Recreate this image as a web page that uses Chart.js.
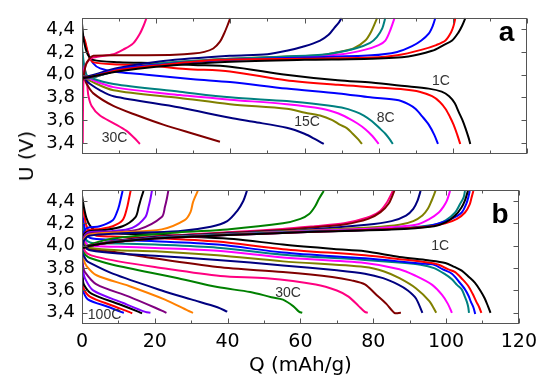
<!DOCTYPE html>
<html>
<head>
<meta charset="utf-8">
<script src="https://cdn.jsdelivr.net/npm/chart.js@4.4.1/dist/chart.umd.min.js"></script>
<style>
    html, body { margin: 0; padding: 0; background: #fff; }
    #wrap { position: relative; width: 544px; height: 378px; overflow: hidden; }
    #chartA { position: absolute; left: 0; top: 0; }
    #chartB { position: absolute; left: 0; top: 172px; }
    #yTitle { position: absolute; left: 26px; top: 156px; transform: translate(-50%, -50%) rotate(-90deg); font: 20px 'DejaVu Sans', sans-serif; white-space: nowrap; color: #000; }
</style>
</head>
<body>
<div id="wrap">
    <canvas id="chartA" width="544" height="172"></canvas>
    <canvas id="chartB" width="544" height="206"></canvas>
    <div id="yTitle">U (V)</div>
</div>
<script>
const xTickValues = [0, 20, 40, 60, 80, 100, 120];
const xMinorValues = [10, 30, 50, 70, 90, 110];
const yTickValues = [3.4, 3.6, 3.8, 4.0, 4.2, 4.4];

// panel a: 1C ... 30C
const colorsA = ['#000000', '#ff0000', '#0000ff', '#008080', '#ff00ff', '#808000', '#000080', '#800000', '#ff0080'];

const dischargeA = [
    [[0,4.45],[0.5,4.3],[1.5,4.18],[3,4.13],[10,4.11],[20,4.1],[30,4.085],[40,4.07],[55,4.0],[69,3.95],[78,3.93],[87,3.9],[93.5,3.877],[97,3.85],[99,3.81],[100.5,3.75],[101.6,3.67],[102.6,3.6],[103.4,3.53],[104.2,3.45],[104.7,3.39]],
    [[0,4.36],[0.8,4.3],[1.8,4.17],[3,4.11],[10,4.09],[17.4,4.083],[28,4.05],[39.9,4.028],[55,3.95],[69,3.91],[78,3.89],[87,3.87],[91,3.85],[94.4,3.81],[96.5,3.76],[98,3.7],[99.2,3.63],[100.2,3.56],[101.2,3.47],[102,3.39]],
    [[0,4.36],[0.4,4.33],[1.5,4.2],[3,4.1],[4.9,4.055],[10,4.02],[17.4,4.0],[30,3.96],[39.9,3.935],[55.2,3.877],[69.2,3.835],[77.7,3.8],[85.4,3.775],[88,3.74],[89.9,3.7],[91.8,3.63],[93.5,3.56],[95,3.47],[96,3.39]],
    [[0,4.25],[0.5,4.1],[1.2,4.0],[2.2,3.973],[8.5,3.918],[26.4,3.85],[39.9,3.8],[55.2,3.767],[64.7,3.735],[70,3.71],[73.7,3.675],[76,3.64],[78.2,3.59],[80.2,3.53],[81.8,3.48],[83,3.43],[83.8,3.39]],
    [[0,4.2],[0.5,4.05],[1.2,3.98],[2.2,3.96],[8.5,3.89],[26.4,3.82],[39.9,3.78],[55.2,3.74],[64.7,3.7],[69,3.66],[71.9,3.615],[74.3,3.57],[76.4,3.52],[78.3,3.46],[80,3.39]],
    [[0,4.2],[0.5,4.03],[1.2,3.97],[2.2,3.945],[8.5,3.863],[26.4,3.795],[39.9,3.74],[55.2,3.7],[60.2,3.665],[64.2,3.64],[67.5,3.6],[69.5,3.56],[71.4,3.53],[73,3.48],[74.5,3.43],[75.5,3.39]],
    [[0,4.1],[0.5,4.0],[1.2,3.95],[2.2,3.918],[5,3.86],[8.5,3.81],[26.4,3.71],[39.9,3.62],[46.2,3.585],[55.2,3.532],[60,3.48],[63,3.43],[65.2,3.39]],
    [[0,4.05],[0.6,3.97],[1.26,3.918],[3.06,3.835],[8.45,3.725],[15,3.64],[21.9,3.56],[30,3.48],[37.2,3.41]],
    [[0,4.15],[0.7,4.05],[1.26,3.97],[1.7,3.82],[2.6,3.725],[4.85,3.64],[8.45,3.574],[12,3.505],[14.2,3.44],[15.6,3.39]]
];

const chargeA = [
    [[0.3,3.97],[2.2,3.98],[10,4.03],[20,4.07],[37,4.11],[60,4.13],[78,4.14],[88,4.16],[94.4,4.21],[97.5,4.26],[99.8,4.3],[101.5,4.37],[102.5,4.43],[103.4,4.5]],
    [[0.3,3.97],[2.2,3.98],[10,4.04],[20,4.08],[37,4.13],[60,4.14],[78,4.15],[85,4.17],[91.7,4.22],[95.5,4.26],[98,4.3],[99.5,4.37],[100.2,4.43],[100.7,4.5]],
    [[0.3,3.97],[2.2,3.98],[10,4.05],[21.9,4.09],[39.9,4.13],[60,4.15],[78,4.17],[85,4.2],[89,4.25],[91.5,4.3],[93.5,4.36],[94.6,4.43],[95.3,4.5]],
    [[0.3,3.97],[2.2,3.97],[10,4.04],[21.9,4.1],[39.9,4.14],[55,4.16],[66,4.18],[73.7,4.23],[77.7,4.28],[79.5,4.33],[81,4.41],[81.8,4.5]],
    [[0.3,3.97],[2.2,3.97],[10,4.04],[21.9,4.09],[39.9,4.13],[55,4.15],[70,4.18],[76.4,4.22],[80,4.26],[81.8,4.3],[83,4.38],[84.3,4.5]],
    [[0.3,3.97],[2.2,3.97],[10,4.04],[21.9,4.1],[39.9,4.14],[55,4.16],[64.2,4.17],[69.2,4.2],[73.2,4.23],[76.4,4.3],[78,4.38],[79.6,4.5]],
    [[0.3,3.97],[2.2,3.99],[10,4.06],[21.9,4.12],[39.9,4.166],[50,4.18],[55.2,4.21],[60,4.25],[64.2,4.3],[66.5,4.35],[68,4.41],[69.3,4.46],[70,4.5]],
    [[0.3,3.95],[1,4.08],[2,4.14],[3.06,4.166],[15,4.17],[25,4.175],[30,4.185],[33,4.2],[35.4,4.23],[37.2,4.29],[38.3,4.36],[39.2,4.43],[40,4.5]],
    [[0.2,3.39],[0.3,3.8],[0.5,4.0],[1.2,4.1],[3,4.15],[8.5,4.18],[11.1,4.22],[13.8,4.275],[15.6,4.36],[16.6,4.43],[17.4,4.5]]
];

// panel b: 1C ... 100C
const colorsB = ['#000000', '#ff0000', '#0000ff', '#008080', '#ff00ff', '#808000', '#000080', '#800000', '#ff0080',
    '#008000', '#000080', '#ff8000', '#800080', '#8000ff', '#000000', '#ff0000', '#0000ff'];

const dischargeB = [
    [[0,4.45],[0.5,4.35],[1.2,4.25],[2.2,4.18],[4,4.13],[10,4.11],[20,4.1],[30,4.08],[41.7,4.06],[55.2,4.01],[69.2,3.97],[77.7,3.95],[87.2,3.9],[95,3.87],[99.8,3.846],[102.3,3.81],[104.3,3.777],[106.3,3.72],[107.9,3.67],[109.4,3.6],[110.6,3.53],[111.5,3.46],[112.2,3.4]],
    [[0,4.4],[0.5,4.3],[1.2,4.18],[2.2,4.12],[4,4.09],[10,4.08],[20,4.07],[37.2,4.037],[55.2,3.969],[77.7,3.914],[87.2,3.88],[95,3.85],[98,3.83],[100.5,3.79],[102.5,3.764],[104.5,3.7],[106.1,3.64],[107.3,3.57],[108.3,3.5],[109.1,3.45],[109.7,3.4]],
    [[0,4.3],[0.5,4.2],[1.2,4.1],[2.2,4.07],[4,4.06],[10,4.05],[20,4.04],[37.2,4.01],[55.2,3.94],[77.7,3.887],[87,3.86],[93,3.84],[96.7,3.83],[99,3.79],[101.6,3.75],[103.5,3.68],[105.2,3.61],[106.2,3.55],[106.8,3.5],[107.5,3.45],[108,3.39]],
    [[0,4.25],[0.5,4.12],[1.2,4.05],[2.2,4.03],[4,4.02],[10,4.02],[20,4.01],[37.2,3.982],[55.2,3.92],[77.7,3.873],[87,3.85],[93,3.83],[96.7,3.8],[99.5,3.75],[101.6,3.7],[103,3.65],[104.3,3.61],[105.1,3.55],[105.7,3.5],[106.1,3.45],[106.3,3.4]],
    [[0,4.2],[0.5,4.08],[1.2,4.02],[2.2,4.0],[10,3.99],[20,3.98],[37.2,3.955],[55.2,3.895],[77.7,3.846],[87.2,3.79],[91.7,3.73],[96.2,3.65],[98.9,3.56],[100.5,3.48],[101.6,3.4]],
    [[0,4.15],[0.5,4.05],[1.2,4.0],[2.2,3.98],[10,3.96],[20,3.95],[37.2,3.914],[55.2,3.86],[77.7,3.81],[83,3.77],[87.2,3.71],[91.7,3.62],[95.4,3.504],[97.3,3.4]],
    [[0,4.1],[0.5,4.02],[1.2,3.98],[2.2,3.96],[10,3.93],[20,3.91],[37.2,3.873],[55.2,3.824],[70,3.78],[77.7,3.75],[82.7,3.71],[87,3.65],[89.5,3.6],[91.7,3.53],[93.5,3.4]],
    [[0,4.05],[0.6,3.99],[1.5,3.97],[7.6,3.95],[17.4,3.9],[37.2,3.81],[55.2,3.764],[68.7,3.72],[74,3.69],[77.7,3.654],[80.9,3.56],[83.6,3.48],[85.8,3.4],[87.6,3.4]],
    [[0,4.05],[0.5,3.97],[1.5,3.93],[4,3.9],[10,3.86],[20,3.81],[38,3.73],[50.7,3.709],[64.2,3.654],[70,3.6],[73.2,3.545],[76,3.46],[77.7,3.408],[78.5,3.4]],
    [[0,4.0],[0.5,3.94],[1.2,3.91],[2.2,3.89],[8.45,3.83],[26.4,3.71],[37.2,3.63],[46.2,3.586],[52,3.54],[55.2,3.518],[58,3.46],[59.7,3.408],[60.5,3.4]],
    [[0,3.98],[0.4,3.92],[1.2,3.87],[2.2,3.846],[8.45,3.75],[21.9,3.6],[30,3.52],[37.2,3.45],[39.9,3.41]],
    [[0,3.95],[0.4,3.88],[1.26,3.818],[4,3.736],[12.9,3.64],[22.8,3.518],[29.1,3.42],[30.5,3.4]],
    [[0,3.9],[0.3,3.82],[0.8,3.764],[4,3.654],[12.9,3.545],[21.9,3.42],[23.2,3.4]],
    [[0,3.85],[0.3,3.77],[0.8,3.709],[3.06,3.6],[11.15,3.49],[17.4,3.408],[18.8,3.4]],
    [[0,3.8],[0.2,3.72],[0.5,3.654],[2.6,3.572],[10.25,3.477],[15.6,3.408],[16.5,3.395]],
    [[0,3.78],[0.2,3.68],[0.5,3.613],[2.16,3.545],[8.45,3.463],[12.9,3.408],[13.8,3.395]],
    [[0,3.72],[0.2,3.63],[0.4,3.586],[1.7,3.518],[7.5,3.45],[10.7,3.408],[11.5,3.4]]
];

const chargeB = [
    [[0.3,3.98],[2.2,4.0],[8.45,4.03],[20,4.065],[39.9,4.095],[60,4.12],[85,4.145],[96.7,4.175],[100,4.21],[102.5,4.27],[104.2,4.34],[105.2,4.406],[106,4.49]],
    [[0.3,3.98],[2.2,4.0],[8.45,4.03],[20,4.065],[39.9,4.095],[60,4.12],[85,4.15],[95,4.17],[99.8,4.2],[103,4.24],[105.2,4.297],[106.5,4.37],[107,4.43],[107.5,4.49]],
    [[0.3,3.98],[2.2,4.0],[8.45,4.03],[20,4.065],[39.9,4.095],[60,4.12],[85,4.15],[94,4.17],[98,4.2],[101.5,4.24],[104.3,4.297],[105.5,4.37],[106.1,4.43],[106.5,4.49]],
    [[0.3,3.98],[2.2,4.0],[8.45,4.035],[20,4.07],[39.9,4.1],[60,4.125],[85,4.15],[96.7,4.187],[100,4.23],[102.5,4.297],[103.8,4.37],[104.8,4.43],[105.2,4.49]],
    [[0.3,3.98],[2.2,4.0],[8.45,4.035],[20,4.07],[39.9,4.1],[60,4.13],[80,4.155],[91.7,4.187],[95.5,4.24],[98,4.297],[99.3,4.35],[100.2,4.4],[101.1,4.49]],
    [[0.3,3.98],[2.2,4.0],[8.45,4.03],[20,4.07],[39.9,4.105],[60,4.135],[80,4.165],[87.2,4.187],[91,4.22],[93.5,4.27],[95,4.33],[96,4.4],[97.1,4.49]],
    [[0.3,3.98],[2.2,4.0],[8.45,4.035],[20,4.075],[39.9,4.11],[60,4.14],[78.2,4.187],[85,4.22],[89,4.27],[91,4.33],[92.2,4.406],[93,4.49]],
    [[0.3,3.98],[2.2,4.0],[8.45,4.04],[20,4.08],[39.9,4.115],[55,4.14],[64,4.165],[72,4.19],[78.6,4.24],[82,4.3],[84.3,4.38],[85.8,4.49]],
    [[0.3,3.98],[2.2,4.0],[8.45,4.04],[20,4.08],[39.9,4.12],[55,4.15],[64,4.175],[72,4.2],[78.2,4.25],[81.5,4.3],[83.6,4.38],[85.4,4.49]],
    [[0.3,3.98],[2.2,4.01],[8.45,4.064],[26.4,4.119],[39.9,4.146],[55.2,4.2],[60,4.24],[62.4,4.283],[64,4.35],[65.1,4.42],[66.4,4.49]],
    [[0.2,4.0],[0.6,4.05],[2,4.09],[10,4.11],[26.4,4.13],[35.4,4.17],[39.9,4.22],[42.6,4.31],[44.3,4.4],[45.3,4.49]],
    [[0.2,4.0],[0.6,4.06],[2,4.1],[10,4.12],[21.9,4.146],[28.2,4.228],[29.8,4.3],[30.5,4.39],[31.8,4.49]],
    [[0.2,4.0],[0.6,4.07],[2,4.11],[8,4.12],[15.6,4.146],[21.9,4.256],[22.8,4.35],[23.3,4.42],[23.7,4.49]],
    [[0.2,4.0],[0.6,4.08],[2,4.12],[8,4.13],[13.8,4.16],[17.4,4.256],[18.3,4.35],[18.8,4.42],[19.2,4.49]],
    [[0.2,4.0],[0.6,4.1],[2,4.13],[6,4.14],[11.15,4.174],[14.7,4.256],[15.6,4.35],[16.2,4.42],[16.9,4.49]],
    [[0.2,4.0],[0.6,4.1],[2,4.14],[5,4.15],[8.45,4.174],[11.15,4.228],[12.3,4.33],[12.9,4.42],[13.35,4.49]],
    [[0,3.4],[0.05,3.8],[0.2,4.05],[0.5,4.12],[1.5,4.16],[4.85,4.174],[8.45,4.228],[9.6,4.3],[10.25,4.365],[11.15,4.49]]
];

// rate labels: text, Q, U
const labelsA = [['1C', 96.8, 3.945], ['8C', 81.9, 3.615], ['15C', 60.7, 3.58], ['30C', 8.8, 3.44]];
const labelsB = [['1C', 98.4, 3.992], ['30C', 56.6, 3.578], ['100C', 6.2, 3.381]];

const FONT = "'Liberation Sans', Arial, sans-serif";
const WIDE_FONT = "'DejaVu Sans', sans-serif";

const framePlugin = {
    id: 'frame',
    afterDatasetsDraw(chart) {
        const { ctx, chartArea: a, scales: { x, y } } = chart;
        ctx.save();
        ctx.strokeStyle = '#555';
        ctx.lineWidth = 1;
        const l = Math.round(a.left) + 0.5, r = Math.round(a.right) - 0.5;
        const t = Math.round(a.top) + 0.5, b = Math.round(a.bottom) - 0.5;
        ctx.strokeRect(l, t, r - l, b - t);
        ctx.beginPath();
        const vTick = (v, len) => {
            const px = Math.round(x.getPixelForValue(v)) + 0.5;
            ctx.moveTo(px, b); ctx.lineTo(px, b - len);
            ctx.moveTo(px, t); ctx.lineTo(px, t + len);
        };
        xTickValues.forEach(v => vTick(v, 5));
        xMinorValues.forEach(v => vTick(v, 3));
        yTickValues.forEach(v => {
            const py = Math.round(y.getPixelForValue(v)) + 0.5;
            ctx.moveTo(l, py); ctx.lineTo(l + 5, py);
            ctx.moveTo(r, py); ctx.lineTo(r - 5, py);
        });
        ctx.stroke();
        ctx.restore();
    }
};

const labelPlugin = {
    id: 'curveLabels',
    afterDatasetsDraw(chart, args, opts) {
        const { ctx, scales: { x, y } } = chart;
        ctx.save();
        ctx.textAlign = 'center';
        ctx.textBaseline = 'middle';
        ctx.fillStyle = '#333';
        ctx.font = '14px ' + FONT;
        opts.labels.forEach(l => ctx.fillText(l[0], x.getPixelForValue(l[1]), y.getPixelForValue(l[2])));
        // panel letter, placed by its baseline
        ctx.textBaseline = 'alphabetic';
        ctx.fillStyle = '#000';
        ctx.font = 'bold 28px ' + FONT;
        ctx.fillText(opts.letter, x.getPixelForValue(opts.letterAt[0]), y.getPixelForValue(opts.letterAt[1]));
        ctx.restore();
    }
};

function lineSet(curve, color) {
    return {
        data: curve.map(p => ({ x: p[0], y: p[1] })),
        borderColor: color,
        borderWidth: 2,
        pointRadius: 0,
        showLine: true,
        fill: false,
        tension: 0.3
    };
}

function buildDatasets(discharge, charge, colors) {
    const sets = [];
    charge.forEach((c, i) => sets.push(lineSet(c, colors[i])));
    discharge.forEach((c, i) => sets.push(lineSet(c, colors[i])));
    return sets;
}

function makePanel(canvasId, datasets, labels, letter, letterAt, showX) {
    const canvas = document.getElementById(canvasId);
    return new Chart(canvas.getContext('2d'), {
        type: 'scatter',
        data: { datasets },
        options: {
            responsive: false,
            animation: false,
            events: [],
            layout: { padding: { left: 0, right: 17, top: showX ? 7 : 14, bottom: 0 } },
            scales: {
                x: {
                    type: 'linear',
                    min: 0,
                    max: 120,
                    afterBuildTicks: s => { s.ticks = xTickValues.map(v => ({ value: v })); },
                    afterFit: s => { s.height = showX ? 54 : 14; },
                    grid: { display: false, drawTicks: false },
                    border: { display: false },
                    ticks: { display: showX, color: '#000', padding: 7, font: { size: 19, family: WIDE_FONT } },
                    title: {
                        display: showX,
                        text: 'Q (mAh/g)',
                        color: '#000',
                        padding: 0,
                        font: { size: 20, family: WIDE_FONT }
                    }
                },
                y: {
                    type: 'linear',
                    min: 3.3,
                    max: 4.5,
                    afterBuildTicks: s => { s.ticks = yTickValues.map(v => ({ value: v })); },
                    afterFit: s => { s.width = 82; },
                    grid: { display: false, drawTicks: false },
                    border: { display: false },
                    ticks: {
                        color: '#000',
                        padding: 7,
                        font: { size: 18, family: WIDE_FONT },
                        callback: v => v.toFixed(1).replace('.', ',')
                    }
                }
            },
            plugins: {
                legend: { display: false },
                tooltip: { enabled: false },
                curveLabels: { labels, letter, letterAt }
            }
        },
        plugins: [framePlugin, labelPlugin]
    });
}

makePanel('chartA', buildDatasets(dischargeA, chargeA, colorsA), labelsA, 'a', [114.5, 4.293], false);
makePanel('chartB', buildDatasets(dischargeB, chargeB, colorsB), labelsB, 'b', [114.8, 4.2], true);
</script>
</body>
</html>
